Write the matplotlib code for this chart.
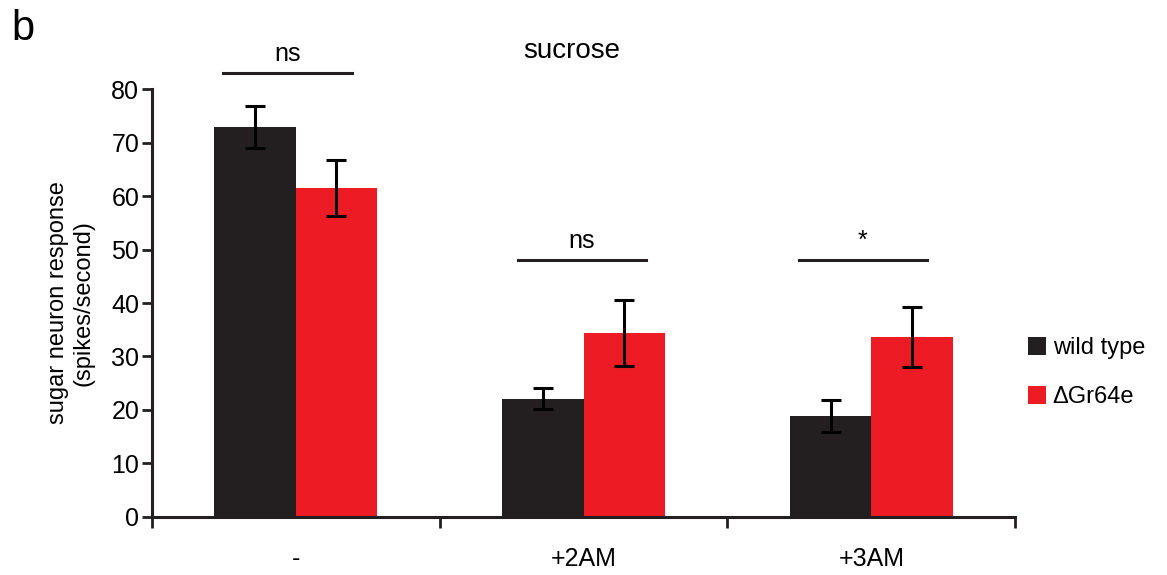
import matplotlib
matplotlib.use('Agg')
import matplotlib.pyplot as plt
import numpy as np

plt.rcParams['font.family'] = ['Liberation Sans', 'DejaVu Sans']

categories = ['-', '+2AM', '+3AM']
wild_type = [72.9, 22.1, 18.9]
wild_type_err = [4.0, 2.0, 3.0]
gr64e = [61.5, 34.4, 33.6]
gr64e_err = [5.2, 6.1, 5.6]
signif = ['ns', 'ns', '*']
signif_y = [83, 48, 48]

black = '#231f20'
red = '#ed1c24'

fig = plt.figure(figsize=(11.67, 5.75), dpi=100)
ax = fig.add_axes([0.130, 0.101, 0.740, 0.744])

x = np.arange(len(categories)) + 0.5
w = 0.283
ax.bar(x - w / 2, wild_type, w, color=black, label='wild type')
ax.bar(x + w / 2, gr64e, w, color=red, label='\u0394Gr64e')
ax.errorbar(x - w / 2, wild_type, yerr=wild_type_err, fmt='none', ecolor='black',
            elinewidth=2.2, capsize=7, capthick=2.2)
ax.errorbar(x + w / 2, gr64e, yerr=gr64e_err, fmt='none', ecolor='black',
            elinewidth=2.2, capsize=7, capthick=2.2)

# significance bars above each pair (small hand offsets like the original)
shifts = [-0.028, -0.005, -0.03]
for xi, s, yy, sh in zip(x, signif, signif_y, shifts):
    ax.plot([xi + sh - 0.223, xi + sh + 0.223], [yy, yy], color=black, lw=2.2, clip_on=False)
    ax.text(xi + sh, yy + 1.4, s, ha='center', va='bottom', fontsize=18)

ax.set_xlim(0, 3.0)
ax.set_ylim(0, 80)
ax.set_yticks(range(0, 81, 10))
ax.set_xticks([0, 1, 2, 3])
ax.set_xticklabels([])
ax.set_xticks(x, minor=True)
ax.set_xticklabels(categories, minor=True)
ax.tick_params(axis='x', which='major', direction='out', length=8, width=2, color=black)
ax.tick_params(axis='x', which='minor', length=0, pad=22, labelsize=18)
ax.tick_params(axis='y', direction='out', length=7, width=2, color=black, labelsize=18, pad=2)

for side in ['top', 'right']:
    ax.spines[side].set_visible(False)
for side in ['left', 'bottom']:
    ax.spines[side].set_linewidth(2.2)
    ax.spines[side].set_color(black)

ax.set_ylabel('sugar neuron response\n(spikes/second)', fontsize=17, labelpad=12)
fig.text(0.49, 0.912, 'sucrose', ha='center', va='center', fontsize=20)
fig.text(0.01, 0.95, 'b', ha='left', va='center', fontsize=30)

ax.legend(loc='upper left', bbox_to_anchor=(0.99, 0.47), frameon=False, fontsize=17,
          handlelength=0.75, handleheight=0.75, handletextpad=0.3, labelspacing=1.15)

fig.savefig('out.png', dpi=100)
